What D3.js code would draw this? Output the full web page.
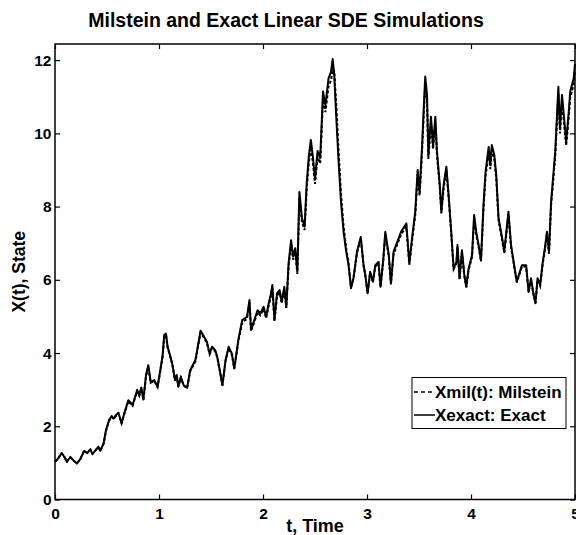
<!DOCTYPE html>
<html>
<head>
<meta charset="utf-8">
<script src="https://cdn.jsdelivr.net/npm/d3@7"></script>
<style>
    body { margin: 0; background: #fff; }
    svg text { font-family: "Liberation Sans", Arial, sans-serif; font-weight: bold; fill: #000; }
</style>
</head>
<body>
<svg id="chart" width="576" height="535"></svg>
<script>
// time grid
const times = [
    0.00, 0.03, 0.064, 0.09, 0.115, 0.147, 0.18, 0.21, 0.243, 0.28, 0.31, 0.34, 0.36, 0.39, 0.416, 0.435, 0.467, 0.49,
    0.52, 0.545, 0.565, 0.585, 0.61, 0.64, 0.67, 0.705, 0.746, 0.79, 0.81, 0.83, 0.85, 0.875, 0.897, 0.92, 0.955, 0.986,
    1.01, 1.035, 1.05, 1.067, 1.083, 1.11, 1.13, 1.154, 1.17, 1.186, 1.21, 1.237, 1.27, 1.30, 1.35, 1.40, 1.435, 1.46,
    1.487, 1.51, 1.54, 1.56, 1.59, 1.61, 1.64, 1.67, 1.70, 1.724, 1.765, 1.80, 1.846, 1.87, 1.885, 1.916, 1.948, 1.974,
    2.006, 2.03, 2.055, 2.077, 2.09, 2.11, 2.135, 2.16, 2.18, 2.205, 2.224, 2.246, 2.27, 2.29, 2.31, 2.33, 2.35, 2.375,
    2.40, 2.42, 2.44, 2.46, 2.48, 2.50, 2.525, 2.55, 2.577, 2.60, 2.63, 2.654, 2.67, 2.685, 2.705, 2.727, 2.75, 2.775,
    2.80, 2.823, 2.846, 2.87, 2.904, 2.94, 2.967, 2.984, 3.006, 3.03, 3.057, 3.08, 3.11, 3.13, 3.157, 3.176, 3.21, 3.23,
    3.256, 3.304, 3.327, 3.378, 3.407, 3.433, 3.464, 3.487, 3.506, 3.53, 3.544, 3.56, 3.577, 3.59, 3.615, 3.635, 3.657, 3.673,
    3.70, 3.715, 3.737, 3.763, 3.785, 3.81, 3.833, 3.86, 3.87, 3.89, 3.913, 3.936, 3.955, 3.977, 4.01, 4.03, 4.05, 4.073,
    4.096, 4.12, 4.14, 4.17, 4.186, 4.20, 4.224, 4.243, 4.265, 4.30, 4.32, 4.36, 4.385, 4.41, 4.44, 4.49, 4.53, 4.554,
    4.577, 4.60, 4.62, 4.64, 4.665, 4.69, 4.71, 4.73, 4.75, 4.77, 4.794, 4.81, 4.84, 4.856, 4.875, 4.915, 4.94, 4.954,
    4.987, 5.00
];

// Xexact: Exact
const exactValues = [
    1.03, 1.12, 1.27, 1.16, 1.03, 1.16, 1.06, 0.98, 1.10, 1.33, 1.27, 1.37, 1.24, 1.35, 1.44, 1.33, 1.53, 1.89,
    2.17, 2.28, 2.21, 2.30, 2.37, 2.08, 2.39, 2.71, 2.58, 2.99, 2.85, 3.06, 2.73, 3.40, 3.67, 3.21, 3.26, 3.08,
    3.49, 3.94, 4.49, 4.53, 4.17, 3.90, 3.67, 3.26, 3.40, 3.08, 3.35, 3.12, 3.05, 3.53, 3.81, 4.61, 4.44, 4.31,
    3.99, 4.17, 4.08, 3.90, 3.44, 3.12, 3.81, 4.17, 3.99, 3.58, 4.40, 4.90, 4.99, 5.45, 4.63, 4.90, 5.17, 5.08,
    5.26, 4.99, 5.36, 5.63, 5.86, 4.90, 5.63, 5.72, 5.40, 5.81, 5.26, 6.45, 7.08, 6.63, 6.86, 6.22, 8.40, 7.68,
    7.45, 8.63, 9.36, 9.82, 9.36, 8.75, 9.52, 9.32, 11.14, 10.77, 11.50, 11.68, 12.03, 11.59, 10.41, 9.22, 8.13, 7.31,
    6.77, 6.40, 5.77, 6.04, 6.77, 7.17, 6.40, 6.13, 5.63, 6.22, 5.95, 6.40, 6.49, 5.81, 6.58, 7.31, 6.67, 5.90,
    6.77, 7.13, 7.31, 7.54, 6.45, 7.13, 7.86, 9.00, 8.40, 9.68, 10.59, 11.55, 11.05, 9.41, 10.45, 9.68, 10.45, 9.50,
    8.59, 7.86, 8.59, 9.09, 8.31, 7.31, 6.31, 6.49, 6.95, 6.04, 6.81, 6.13, 5.81, 6.31, 6.67, 7.77, 7.31, 6.95,
    6.54, 8.04, 8.95, 9.63, 9.13, 9.68, 9.41, 8.86, 7.68, 7.13, 6.77, 7.86, 6.95, 6.49, 5.95, 6.40, 6.40, 5.67,
    6.04, 5.63, 5.36, 6.04, 5.86, 6.49, 6.86, 7.31, 6.77, 8.13, 8.95, 9.50, 11.27, 10.14, 11.05, 9.77, 10.59, 11.14,
    11.50, 11.90
];

// Xmil(t): Milstein
const milsteinValues = [
    1.03, 1.12, 1.26, 1.16, 1.04, 1.15, 1.06, 0.99, 1.10, 1.32, 1.27, 1.36, 1.25, 1.34, 1.43, 1.33, 1.52, 1.87,
    2.15, 2.26, 2.20, 2.28, 2.35, 2.08, 2.37, 2.68, 2.56, 2.96, 2.83, 3.03, 2.72, 3.36, 3.63, 3.19, 3.24, 3.07,
    3.46, 3.90, 4.44, 4.49, 4.14, 3.88, 3.66, 3.25, 3.38, 3.08, 3.33, 3.11, 3.04, 3.50, 3.77, 4.56, 4.40, 4.28,
    3.97, 4.14, 4.05, 3.88, 3.43, 3.12, 3.78, 4.13, 3.96, 3.57, 4.35, 4.84, 4.93, 5.38, 4.60, 4.85, 5.11, 5.03,
    5.20, 4.95, 5.30, 5.56, 5.78, 4.87, 5.57, 5.65, 5.36, 5.74, 5.23, 6.36, 6.97, 6.55, 6.76, 6.16, 8.25, 7.57,
    7.36, 8.48, 9.18, 9.62, 9.20, 8.62, 9.35, 9.18, 10.92, 10.58, 11.28, 11.45, 11.76, 11.70, 10.75, 9.50, 8.35, 7.45,
    6.86, 6.45, 5.80, 6.04, 6.74, 7.12, 6.38, 6.11, 5.63, 6.19, 5.93, 6.36, 6.45, 5.80, 6.53, 7.24, 6.62, 5.88,
    6.71, 7.06, 7.24, 7.45, 6.41, 7.06, 7.77, 8.88, 8.30, 9.54, 10.42, 11.35, 10.88, 9.30, 10.30, 9.57, 10.30, 9.40,
    8.52, 7.81, 8.51, 9.00, 8.24, 7.27, 6.29, 6.45, 6.89, 6.02, 6.75, 6.10, 5.80, 6.27, 6.62, 7.68, 7.24, 6.90,
    6.50, 7.94, 8.83, 9.49, 9.02, 9.54, 9.29, 8.76, 7.62, 7.08, 6.73, 7.78, 6.90, 6.46, 5.93, 6.36, 6.36, 5.66,
    6.01, 5.61, 5.36, 6.00, 5.83, 6.44, 6.80, 7.23, 6.71, 8.03, 8.83, 9.37, 11.08, 10.00, 10.88, 9.66, 10.45, 10.98,
    11.33, 11.72
];

const xTicks = [0, 1, 2, 3, 4, 5];
const yTicks = [0, 2, 4, 6, 8, 10, 12];
const legendLabels = ['Xmil(t): Milstein', 'Xexact: Exact'];

const svg = d3.select('#chart');

const plotLeft = 55, plotRight = 575, plotTop = 44, plotBottom = 499.5;

const x = d3.scaleLinear().domain([0, 5]).range([plotLeft, plotRight]);
const y = d3.scaleLinear().domain([0, 12.44]).range([plotBottom, plotTop]);

// title
svg.append('text')
    .attr('x', 286)
    .attr('y', 27)
    .attr('text-anchor', 'middle')
    .style('font-size', '19.5px')
    .text('Milstein and Exact Linear SDE Simulations');

// lines
let exact = times.map((t, i) => [t, exactValues[i]]);
let mil = times.map((t, i) => [t, milsteinValues[i]]);

const line = d3.line()
    .x(d => x(d[0]))
    .y(d => y(d[1]));

svg.append('path')
    .datum(mil)
    .attr('d', line)
    .attr('fill', 'none')
    .attr('stroke', '#000')
    .attr('stroke-width', 2)
    .attr('stroke-dasharray', '3,2');

svg.append('path')
    .datum(exact)
    .attr('d', line)
    .attr('fill', 'none')
    .attr('stroke', '#000')
    .attr('stroke-width', 2)
    .attr('stroke-linejoin', 'round');

// axes (matlab style: ticks inside, box all round)
const tickLen = 5;

svg.append('g')
    .attr('transform', `translate(0,${plotBottom})`)
    .call(d3.axisBottom(x).tickValues(xTicks).tickFormat(d3.format('d')).tickSizeInner(-tickLen).tickSizeOuter(0).tickPadding(8))
    .call(g => g.select('.domain').remove())
    .call(g => g.selectAll('text').style('font-size', '15.5px'));

svg.append('g')
    .attr('transform', `translate(0,${plotTop})`)
    .call(d3.axisTop(x).tickValues(xTicks).tickSizeInner(-tickLen).tickSizeOuter(0).tickFormat(''))
    .call(g => g.select('.domain').remove());

svg.append('g')
    .attr('transform', `translate(${plotLeft},0)`)
    .call(d3.axisLeft(y).tickValues(yTicks).tickFormat(d3.format('d')).tickSizeInner(-tickLen).tickSizeOuter(0).tickPadding(3.5))
    .call(g => g.select('.domain').remove())
    .call(g => g.selectAll('text').style('font-size', '15.5px'));

svg.append('g')
    .attr('transform', `translate(${plotRight},0)`)
    .call(d3.axisRight(y).tickValues(yTicks).tickSizeInner(-tickLen).tickSizeOuter(0).tickFormat(''))
    .call(g => g.select('.domain').remove());

svg.selectAll('.tick line').attr('stroke', '#000').attr('stroke-width', 1.2);
svg.selectAll('.tick text').attr('fill', '#000').style('font-family', '"Liberation Sans", Arial, sans-serif');

svg.append('rect')
    .attr('x', plotLeft)
    .attr('y', plotTop)
    .attr('width', plotRight - plotLeft)
    .attr('height', plotBottom - plotTop)
    .attr('fill', 'none')
    .attr('stroke', '#000')
    .attr('stroke-width', 1.5);

// axis labels
svg.append('text')
    .attr('x', (plotLeft + plotRight) / 2)
    .attr('y', 532)
    .attr('text-anchor', 'middle')
    .style('font-size', '18px')
    .text('t, Time');

svg.append('text')
    .attr('transform', `translate(25,${(plotTop + plotBottom) / 2}) rotate(-90)`)
    .attr('text-anchor', 'middle')
    .style('font-size', '17.5px')
    .text('X(t), State');

// legend
let legend = svg.append('g');

legend.append('rect')
    .attr('x', 412)
    .attr('y', 377.5)
    .attr('width', 154)
    .attr('height', 51)
    .attr('fill', '#fff')
    .attr('stroke', '#000')
    .attr('stroke-width', 1);

legendLabels.forEach((label, i) => {
    let ly = 392 + i * 23;
    legend.append('line')
        .attr('x1', 414)
        .attr('x2', 435)
        .attr('y1', ly)
        .attr('y2', ly)
        .attr('stroke', '#000')
        .attr('stroke-width', 1.5)
        .attr('stroke-dasharray', i === 0 ? '4,3' : null);
    legend.append('text')
        .attr('x', 435)
        .attr('y', ly + 5.5)
        .style('font-size', '17px')
        .text(label);
});
</script>
</body>
</html>
